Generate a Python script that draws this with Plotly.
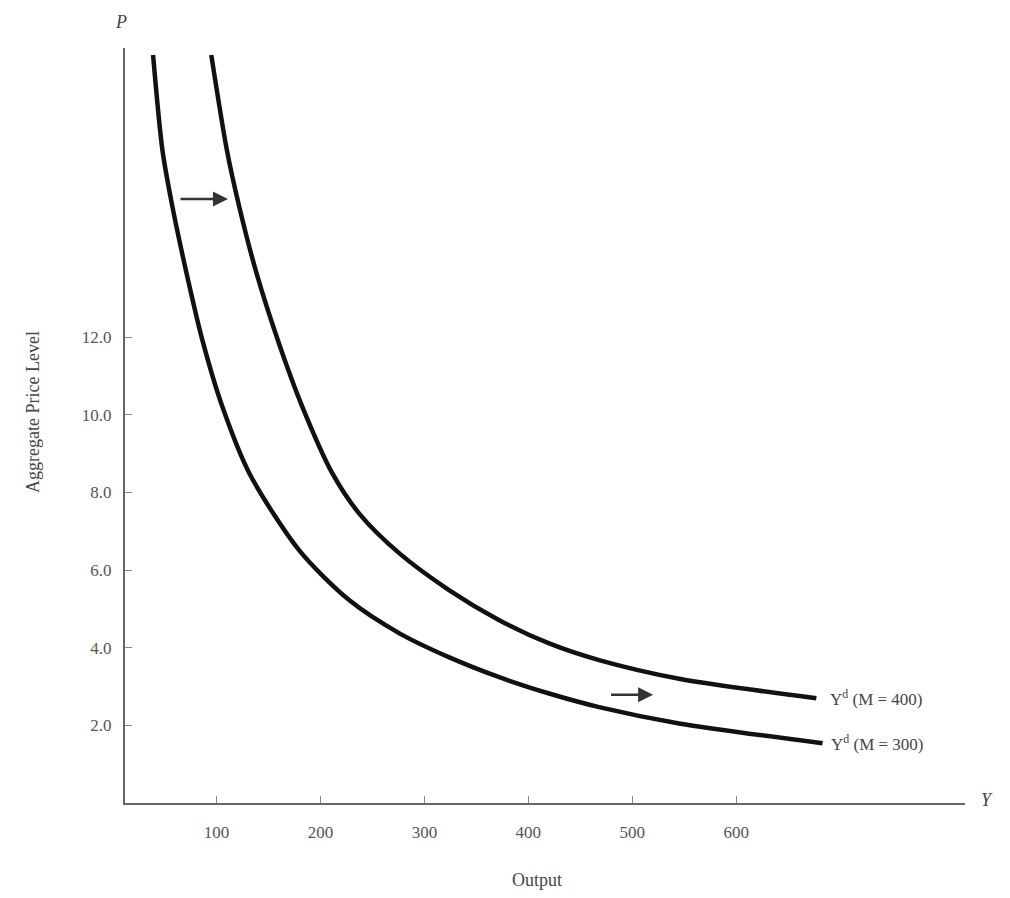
import plotly.graph_objects as go

# Data (Output, Aggregate Price Level)
output_m400 = [95, 110, 122, 138.5, 160.6, 182.7, 211.5, 237.5, 276, 324, 372, 420, 468, 545, 677]
price_m400 = [19.27, 16.82, 15.35, 13.65, 11.80, 10.20, 8.49, 7.45, 6.43, 5.48, 4.71, 4.11, 3.68, 3.20, 2.70]

output_m300 = [39, 48, 57.7, 71.2, 86.5, 105.8, 131.7, 179.8, 227.9, 276, 324, 372, 420, 468, 545, 683]
price_m300 = [19.27, 16.82, 15.35, 13.65, 11.92, 10.20, 8.49, 6.50, 5.22, 4.37, 3.75, 3.24, 2.82, 2.47, 2.05, 1.54]

x_ticks = [100, 200, 300, 400, 500, 600]
y_ticks = [2.0, 4.0, 6.0, 8.0, 10.0, 12.0]
y_tick_labels = ["2.0", "4.0", "6.0", "8.0", "10.0", "12.0"]

label_m400 = "Y<sup>d</sup> (M = 400)"
label_m300 = "Y<sup>d</sup> (M = 300)"
x_title = "Output"
y_title = "Aggregate Price Level"

SERIF = "Liberation Serif, DejaVu Serif, serif"
GRAY = "#555555"
DARK = "#444444"

fig = go.Figure()
for xs, ys in [(output_m400, price_m400), (output_m300, price_m300)]:
    fig.add_trace(go.Scatter(x=xs, y=ys, mode="lines",
                             line=dict(color="#111111", width=4.5, shape="spline", smoothing=0.8),
                             showlegend=False, hoverinfo="skip"))

# curve labels
fig.add_annotation(x=output_m400[-1], y=price_m400[-1], text=label_m400, showarrow=False,
                   xanchor="left", yanchor="middle", xshift=12,
                   font=dict(family=SERIF, size=17, color=DARK))
fig.add_annotation(x=output_m300[-1], y=price_m300[-1], text=label_m300, showarrow=False,
                   xanchor="left", yanchor="middle", xshift=6,
                   font=dict(family=SERIF, size=17, color=DARK))

# shift arrows
fig.add_annotation(x=111, y=15.56, ax=64, ay=15.56, xref="x", yref="y", axref="x", ayref="y",
                   showarrow=True, arrowhead=2, arrowsize=1.2, arrowwidth=2.5,
                   arrowcolor="#333333", text="")
fig.add_annotation(x=520, y=2.79, ax=478, ay=2.79, xref="x", yref="y", axref="x", ayref="y",
                   showarrow=True, arrowhead=2, arrowsize=1.2, arrowwidth=2.5,
                   arrowcolor="#333333", text="")

# axis titles
fig.add_annotation(xref="paper", yref="paper", x=0, y=0.518, xshift=-92, text=y_title,
                   textangle=-90, showarrow=False, xanchor="center", yanchor="middle",
                   font=dict(family=SERIF, size=18, color=DARK))
fig.add_annotation(xref="paper", yref="paper", x=0.49, y=0, yshift=-77, text=x_title,
                   showarrow=False, xanchor="center", yanchor="middle",
                   font=dict(family=SERIF, size=18, color=DARK))

# axis end letters
fig.add_annotation(xref="paper", yref="paper", x=0, y=1, text="<i>P</i>", showarrow=False,
                   yanchor="middle", xanchor="center", yshift=26, xshift=-4,
                   font=dict(family=SERIF, size=18, color=DARK))
fig.add_annotation(xref="paper", yref="paper", x=1, y=0, text="<i>Y</i>", showarrow=False,
                   yanchor="middle", xanchor="left", xshift=14, yshift=3,
                   font=dict(family=SERIF, size=18, color=DARK))

fig.update_layout(
    width=1010, height=898,
    margin=dict(l=117, r=53, t=40, b=103, autoexpand=False),
    paper_bgcolor="white", plot_bgcolor="white",
    xaxis=dict(range=[12, 820], showgrid=False, zeroline=False, automargin=False,
               showline=True, linecolor="#666666", linewidth=2,
               tickmode="array", tickvals=x_ticks,
               ticks="inside", ticklen=7, tickcolor="#888888",
               ticklabelstandoff=13,
               tickfont=dict(family=SERIF, size=17, color=GRAY)),
    yaxis=dict(range=[0, 19.45], showgrid=False, zeroline=False, automargin=False,
               showline=True, linecolor="#666666", linewidth=2,
               tickmode="array", tickvals=y_ticks, ticktext=y_tick_labels,
               ticks="inside", ticklen=7, tickcolor="#888888",
               ticklabelstandoff=8,
               tickfont=dict(family=SERIF, size=17, color=GRAY)),
)

fig.write_html("out.html")
